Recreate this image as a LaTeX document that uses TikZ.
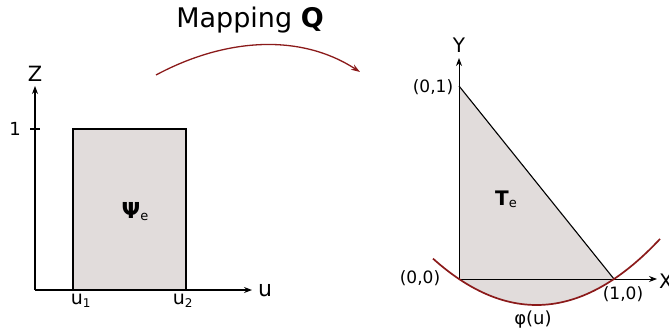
\documentclass[tikz,border=0pt]{standalone}
\usepackage{fontspec}
\setmainfont{DejaVu Sans}
\usetikzlibrary{arrows.meta}
\definecolor{greyfill}{HTML}{E1DCDB}
\definecolor{mapred}{HTML}{8B1A1A}
\tikzset{
  axis/.style={line width=1.1pt,-{Stealth[length=8pt,width=6pt]}},
  lbl/.style={inner sep=0pt,font=\fontsize{16}{16}\selectfont},
  axlbl/.style={inner sep=0pt,font=\fontsize{21}{21}\selectfont},
  box/.style={draw=black,line width=1.5pt,fill=greyfill},
  curve/.style={draw=mapred,line width=1.7pt},
}
\begin{document}
\begin{tikzpicture}[x=1pt,y=-1pt]
\useasboundingbox (0,0) rectangle (669,335);
% title
\node[inner sep=0pt,font=\fontsize{27}{27}\selectfont] (title) at (250,20) {Mapping \textbf{Q}};
\coordinate (qs) at (156,75);
\coordinate (qe) at (360,72);
\draw[mapred,line width=1.3pt,-{Stealth[length=9pt,width=6pt]}] (qs) .. controls (225,38) and (300,33) .. (qe);
% left axes
\coordinate (O1) at (35,290);
\coordinate (zt) at (35,86);
\coordinate (ut) at (252,290);
\draw[box] (73,129) rectangle (186,290);
\draw[axis] (O1) -- (zt);
\draw[axis] (O1) -- (ut);
\draw[line width=1.1pt] (30,129) -- (40,129);
\node[axlbl] (zl) at (35,74) {Z};
\node[axlbl,font=\fontsize{22}{22}\selectfont] (ul) at (265,290) {u};
\node[lbl,font=\fontsize{18}{18}\selectfont] (one) at (15,129) {1};
\node[lbl,font=\fontsize{19}{19}\selectfont] (u1) at (81,301) {u\textsubscript{\fontsize{12}{12}\selectfont 1}};
\node[lbl,font=\fontsize{19}{19}\selectfont] (u2) at (183,301) {u\textsubscript{\fontsize{12}{12}\selectfont 2}};
\node[inner sep=0pt] (psi) at (135,212) {\fontsize{22}{22}\selectfont\textbf{Ψ}\fontsize{13}{13}\selectfont\raisebox{-2pt}{e}};
% right
\coordinate (O2) at (459,279);
\coordinate (A) at (459,86);
\coordinate (B) at (614,279);
\coordinate (yt) at (459,58);
\coordinate (xt) at (657,279);
\fill[greyfill] (A) -- (O2) -- (B) -- cycle;
\fill[greyfill,domain=459:614,samples=40] plot (\x,{305-0.433*((\x-536.5)/10)^2}) -- cycle;
\draw[line width=1.1pt] (A) -- (B);
\draw[axis,line width=1pt] (O2) -- (yt);
\draw[axis,line width=1pt] (O2) -- (xt);
\draw[curve,domain=433:660,samples=60] plot (\x,{305-0.433*((\x-536.5)/10)^2});
\node[axlbl,font=\fontsize{20}{20}\selectfont] (yl) at (459,45) {Y};
\node[axlbl,font=\fontsize{20}{20}\selectfont,anchor=west] (xl) at (659,281) {X};
\node[lbl,font=\fontsize{17}{17}\selectfont] (p01) at (433,87) {(0,1)};
\node[lbl,font=\fontsize{17}{17}\selectfont] (p00) at (420,278) {(0,0)};
\node[lbl,font=\fontsize{17}{17}\selectfont] (p10) at (623,294) {(1,0)};
\node[inner sep=0pt] (te) at (506,199) {\fontsize{20}{20}\selectfont\textbf{T}\fontsize{13}{13}\selectfont\raisebox{-2pt}{e}};
\node[lbl,font=\fontsize{18}{18}\selectfont] (phi) at (533,320) {φ(u)};
\end{tikzpicture}
\end{document}
